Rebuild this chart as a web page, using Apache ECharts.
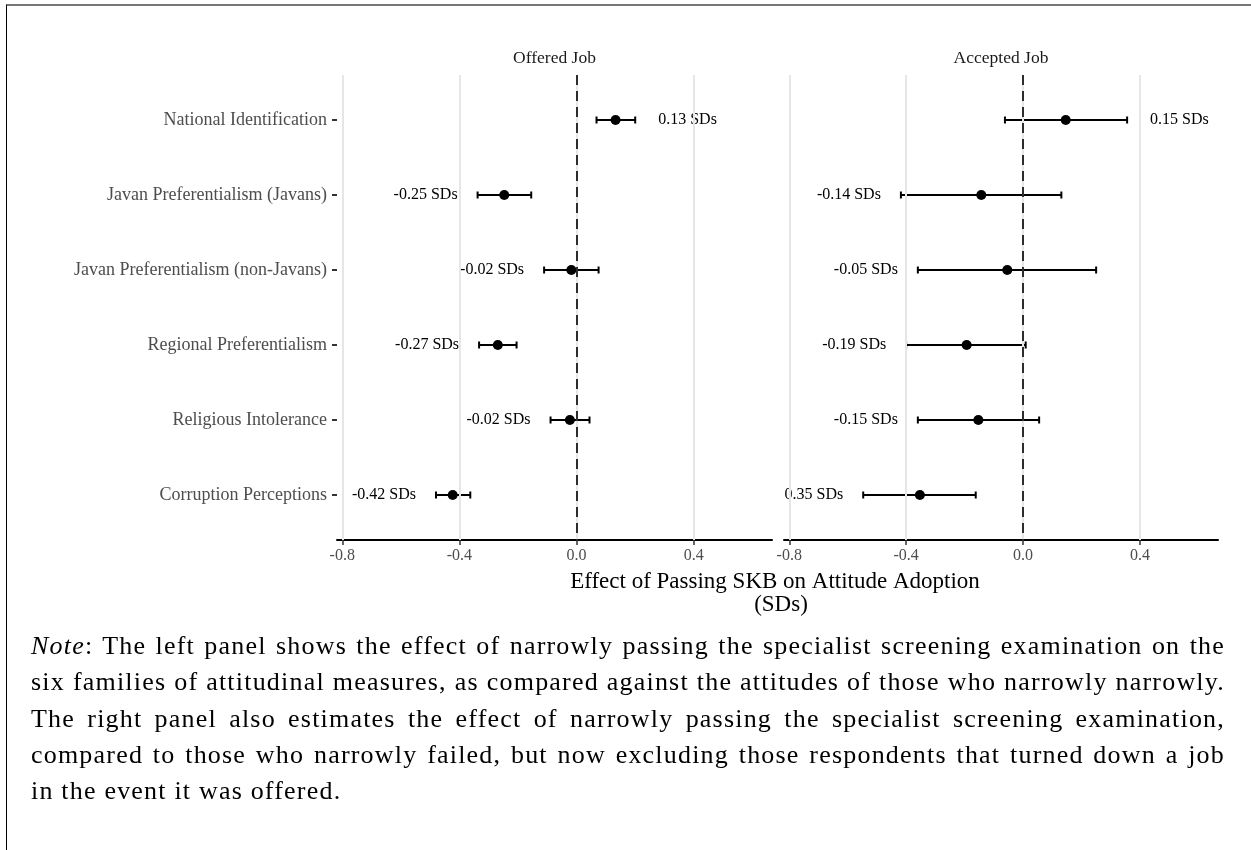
<!DOCTYPE html>
<html>
<head>
<meta charset="utf-8">
<script src="https://cdn.jsdelivr.net/npm/echarts@6/dist/echarts.min.js"></script>
<style>
  html, body { margin: 0; padding: 0; background: #fff; }
  #frame { position: absolute; left: 6px; top: 4px; width: 1245px; height: 846px;
           border-top: 2px solid #777; border-left: 1.5px solid #000; box-sizing: border-box; }
  #chart { position: absolute; left: 0; top: 0; width: 1251px; height: 850px; }
  #note { position: absolute; left: 31px; top: 628px; width: 1194px;
          font-family: 'Liberation Serif', serif; font-size: 26px; letter-spacing: 1.2px;
          line-height: 36.3px; color: #000; }
  #note div { text-align: justify; text-align-last: justify; white-space: nowrap; }
  #note div.last { text-align-last: left; }
</style>
</head>
<body>
<div id="frame"></div>
<div id="chart"></div>
<div id="note">
  <div><i>Note</i>: The left panel shows the effect of narrowly passing the specialist screening examination on the</div>
  <div>six families of attitudinal measures, as compared against the attitudes of those who narrowly narrowly.</div>
  <div>The right panel also estimates the effect of narrowly passing the specialist screening examination,</div>
  <div>compared to those who narrowly failed, but now excluding those respondents that turned down a job</div>
  <div class="last">in the event it was offered.</div>
</div>
<script>
// Outcome families, top to bottom
const categories = [
  'National Identification',
  'Javan Preferentialism (Javans)',
  'Javan Preferentialism (non-Javans)',
  'Regional Preferentialism',
  'Religious Intolerance',
  'Corruption Perceptions'
];

// Offered Job: point estimates and confidence bounds (SDs)
const offeredEst = [0.133, -0.247, -0.018, -0.269, -0.023, -0.423];
const offeredLo  = [0.068, -0.338, -0.111, -0.333, -0.089, -0.480];
const offeredHi  = [0.200, -0.155,  0.075, -0.205,  0.044, -0.363];

// Accepted Job: point estimates and confidence bounds (SDs)
const acceptedEst = [0.146, -0.143, -0.054, -0.193, -0.153, -0.353];
const acceptedLo  = [-0.062, -0.418, -0.360, -0.400, -0.360, -0.547];
const acceptedHi  = [0.356,  0.131,  0.250,  0.009,  0.055, -0.162];

// Panel titles and x-axis ticks
const panelTitles = ['Offered Job', 'Accepted Job'];
const xTicks = [-0.8, -0.4, 0.0, 0.4];

const SERIF = "'Liberation Serif', 'DejaVu Serif', serif";
const catIndex = categories.map((_, i) => i);

const chart = echarts.init(document.getElementById('chart'), null, { renderer: 'canvas' });

function xAxisFor(gridIndex) {
  return {
    type: 'value', gridIndex, min: -0.818, max: 0.667, position: 'bottom',
    axisLine: { show: true, onZero: false, lineStyle: { color: '#000', width: 2 } },
    axisTick: { show: true, length: 5, customValues: xTicks, lineStyle: { color: '#333', width: 1.5 } },
    axisLabel: { show: true, customValues: xTicks, margin: 8, color: '#4d4d4d',
                 fontFamily: SERIF, fontSize: 16, formatter: v => v.toFixed(1) },
    splitLine: { show: false }
  };
}

function yAxisFor(gridIndex, showLabels) {
  return {
    type: 'value', gridIndex, min: -0.6, max: 5.6, inverse: true, position: 'left',
    axisLine: { show: false, onZero: false },
    axisTick: { show: showLabels, length: 5, customValues: catIndex, lineStyle: { color: '#333', width: 2 } },
    axisLabel: { show: showLabels, customValues: catIndex, margin: 10, color: '#4d4d4d',
                 fontFamily: SERIF, fontSize: 18, formatter: v => categories[Math.round(v)] },
    splitLine: { show: false }
  };
}

// Horizontal CI bar with end caps plus an estimate label beside it
function errorBarItem(params, api) {
  const y = api.value(2);
  const est = api.value(3);
  const a = api.coord([api.value(0), y]);
  const b = api.coord([api.value(1), y]);
  const cap = 3.5;
  const style = { stroke: '#000', lineWidth: 2 };
  const label = est.toFixed(2) + ' SDs';
  const right = est >= 0;
  return {
    type: 'group',
    children: [
      { type: 'line', shape: { x1: a[0], y1: a[1], x2: b[0], y2: b[1] }, style },
      { type: 'line', shape: { x1: a[0], y1: a[1] - cap, x2: a[0], y2: a[1] + cap }, style },
      { type: 'line', shape: { x1: b[0], y1: b[1] - cap, x2: b[0], y2: b[1] + cap }, style },
      { type: 'text', style: {
          text: label, x: right ? b[0] + 23 : a[0] - 20, y: a[1],
          align: right ? 'left' : 'right', verticalAlign: 'middle',
          fill: '#000', font: '16px ' + SERIF } }
    ]
  };
}

function panelSeries(idx, est, lo, hi) {
  return [
    { // vertical major grid lines
      type: 'scatter', xAxisIndex: idx, yAxisIndex: idx, data: [], silent: true, z: 1,
      markLine: { silent: true, symbol: ['none', 'none'], label: { show: false },
                  lineStyle: { color: '#e6e6e6', width: 2, type: 'solid' },
                  emphasis: { disabled: true },
                  data: xTicks.map(v => ({ xAxis: v })) }
    },
    { // reference line at zero
      type: 'scatter', xAxisIndex: idx, yAxisIndex: idx, data: [], silent: true, z: 2,
      markLine: { silent: true, symbol: ['none', 'none'], label: { show: false },
                  lineStyle: { color: '#000', width: 1.6, type: [10, 6] },
                  emphasis: { disabled: true },
                  data: [{ xAxis: 0 }] }
    },
    {
      type: 'custom', xAxisIndex: idx, yAxisIndex: idx, clip: true, silent: true, z: 3,
      renderItem: errorBarItem,
      encode: { x: [0, 1], y: 2 },
      data: categories.map((_, i) => [lo[i], hi[i], i, est[i]])
    },
    {
      type: 'scatter', xAxisIndex: idx, yAxisIndex: idx, silent: true, z: 4,
      symbol: 'circle', symbolSize: 10, itemStyle: { color: '#000', opacity: 1 },
      data: categories.map((_, i) => [est[i], i])
    }
  ];
}

chart.setOption({
  animation: false,
  backgroundColor: 'transparent',
  grid: [
    { left: 337, top: 75, width: 435, height: 465 },
    { left: 784, top: 75, width: 434, height: 465 }
  ],
  xAxis: [xAxisFor(0), xAxisFor(1)],
  yAxis: [yAxisFor(0, true), yAxisFor(1, false)],
  graphic: [
    { type: 'text', x: 554.5, y: 58, style: { text: panelTitles[0], align: 'center', verticalAlign: 'middle',
        fill: '#1a1a1a', font: '17.5px ' + SERIF } },
    { type: 'text', x: 1001, y: 58, style: { text: panelTitles[1], align: 'center', verticalAlign: 'middle',
        fill: '#1a1a1a', font: '17.5px ' + SERIF } },
    { type: 'text', x: 775, y: 582, style: { text: 'Effect of Passing SKB on Attitude Adoption',
        align: 'center', verticalAlign: 'middle', fill: '#000', font: '23px ' + SERIF } },
    { type: 'text', x: 781, y: 605, style: { text: '(SDs)',
        align: 'center', verticalAlign: 'middle', fill: '#000', font: '23px ' + SERIF } }
  ],
  series: [
    ...panelSeries(0, offeredEst, offeredLo, offeredHi),
    ...panelSeries(1, acceptedEst, acceptedLo, acceptedHi)
  ]
});
</script>
</body>
</html>
